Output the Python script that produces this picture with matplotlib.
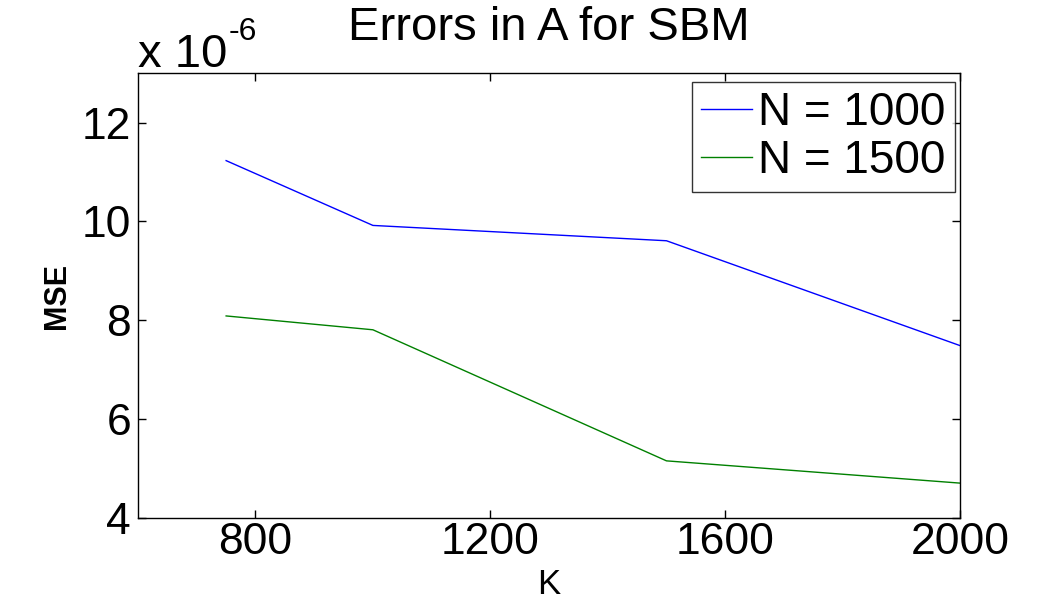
import matplotlib
matplotlib.use("Agg")
import matplotlib.pyplot as plt

plt.rcParams['font.family'] = ['Liberation Sans', 'DejaVu Sans']

K = [750, 1000, 1500, 2000]
mse_n1000 = [11.23, 9.92, 9.61, 7.49]   # x 1e-6
mse_n1500 = [8.09, 7.81, 5.16, 4.71]    # x 1e-6
labels = ['N = 1000', 'N = 1500']
xticks = [800, 1200, 1600, 2000]
yticks = [4, 6, 8, 10, 12]

fig = plt.figure(figsize=(10.62, 6.04), dpi=100)
ax = fig.add_axes([0.130, 0.142, 0.774, 0.737])

ax.plot(K, mse_n1000, color='#0000ff', lw=1.0, label=labels[0])
ax.plot(K, mse_n1500, color='#008000', lw=1.0, label=labels[1])

ax.set_xlim(600, 2000)
ax.set_ylim(4, 13)
ax.set_xticks(xticks)
ax.set_yticks(yticks)
ax.tick_params(direction='in', length=6, width=1, labelsize=32, top=True, right=True)
ax.tick_params(axis='x', pad=3)
ax.tick_params(axis='y', pad=5)
for s in ax.spines.values():
    s.set_linewidth(1.0)

ax.set_title('Errors in A for SBM', fontsize=34, pad=24)
ax.set_xlabel('K', fontsize=25, labelpad=3)
ax.set_ylabel('MSE', fontsize=22, fontweight='bold', labelpad=7)

ax.text(0.0, 1.0135, 'x 10', transform=ax.transAxes, fontsize=34, ha='left', va='baseline')
ax.text(0.11, 1.074, '-6', transform=ax.transAxes, fontsize=23, ha='left', va='baseline')

leg = ax.legend(loc='upper right', bbox_to_anchor=(0.9939, 0.9798), fontsize=33, frameon=True,
                fancybox=False, edgecolor='black', borderpad=0.2, handlelength=1.1,
                handletextpad=0.15, labelspacing=0.08, borderaxespad=0.0)
leg.get_frame().set_linewidth(1.0)

fig.savefig('out.png', dpi=100)
